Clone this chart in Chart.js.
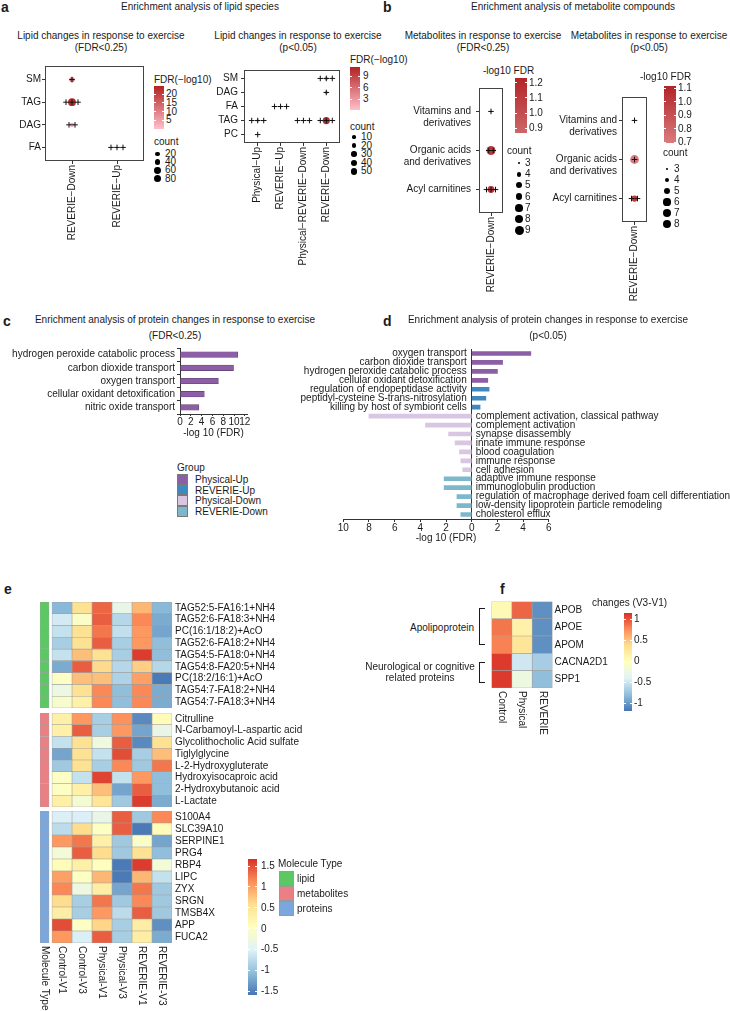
<!DOCTYPE html>
<html><head><meta charset="utf-8">
<script src="https://cdn.jsdelivr.net/npm/chart.js@4.4.1/dist/chart.umd.min.js"></script>
<style>
body{margin:0;background:#fff;}
#page{position:relative;width:730px;height:1011px;overflow:hidden;background:#fff;font-family:'Liberation Sans',Arial,sans-serif;color:#1a1a1a;}
.t{position:absolute;font-size:10px;line-height:12px;white-space:pre;}
canvas{position:absolute;}
.box{position:absolute;box-sizing:border-box;}
</style></head><body><div id="page"></div>
<script>
// ================= DATA =================
// a (left) lipid classes, FDR<0.25
const a1Groups = ['REVERIE−Down', 'REVERIE−Up'];
const a1Classes = ['SM', 'TAG', 'DAG', 'FA'];
const a1CellGroup = ['REVERIE−Down', 'REVERIE−Down', 'REVERIE−Down', 'REVERIE−Up'];
const a1CellClass = ['SM', 'TAG', 'DAG', 'FA'];
const a1Count = [30, 85, 18, 3];
const a1FDR = [12, 23, 4, 1];
const a1Hits = [1, 3, 2, 3];
const a1FdrTicks = [20, 15, 10, 5];
const a1CountTicks = [20, 40, 60, 80];

// a (right) lipid classes, p<0.05
const a2Groups = ['Physical−Up', 'REVERIE−Up', 'Physical−REVERIE−Down', 'REVERIE−Down'];
const a2Classes = ['SM', 'DAG', 'FA', 'TAG', 'PC'];
const a2CellGroup = ['REVERIE−Down', 'REVERIE−Down', 'REVERIE−Up', 'Physical−Up', 'Physical−REVERIE−Down', 'REVERIE−Down', 'Physical−Up'];
const a2CellClass = ['SM', 'DAG', 'FA', 'TAG', 'TAG', 'TAG', 'PC'];
const a2Count = [12, 8, 2, 4, 2, 60, 2];
const a2FDR = [2.5, 3, 1, 5, 1, 10.5, 1.5];
const a2Hits = [3, 1, 3, 3, 3, 3, 1];
const a2FdrTicks = [9, 6, 3];
const a2CountTicks = [10, 20, 30, 40, 50];

// b metabolite classes
const bClasses = ['Vitamins and derivatives', 'Organic acids and derivatives', 'Acyl carnitines'];
const bClassLines = [['', 'Vitamins and', 'derivatives'], ['', 'Organic acids', 'and derivatives'], ['Acyl carnitines']];
const bGroups = ['REVERIE−Down'];
const b1Count = [3, 9, 6];
const b1FDR = [1.22, 1.12, 1.12];
const b1Hits = [1, 2, 3];
const b1FdrTicks = [1.2, 1.1, 1.0, 0.9];
const b1CountTicks = [3, 4, 5, 6, 7, 8, 9];
const b2Count = [3, 8, 5];
const b2FDR = [1.1, 0.7, 1.02];
const b2Hits = [1, 1, 2];
const b2FdrTicks = [1.1, 1.0, 0.9, 0.8, 0.7];
const b2CountTicks = [3, 4, 5, 6, 7, 8];

// c protein enrichment FDR<0.25
const cTerms = ['hydrogen peroxide catabolic process', 'carbon dioxide transport', 'oxygen transport', 'cellular oxidant detoxification', 'nitric oxide transport'];
const cValues = [10.7, 9.9, 7.1, 4.5, 3.5];
const cTicks = [0, 2, 4, 6, 8, 10, 12];

// d protein enrichment p<0.05 (negative = down-regulated)
const dTerms = ['oxygen transport', 'carbon dioxide transport', 'hydrogen peroxide catabolic process', 'cellular oxidant detoxification',
  'regulation of endopeptidase activity', 'peptidyl-cysteine S-trans-nitrosylation', 'killing by host of symbiont cells',
  'complement activation, classical pathway', 'complement activation', 'synapse disassembly', 'innate immune response',
  'blood coagulation', 'immune response', 'cell adhesion',
  'adaptive immune response', 'immunoglobulin production', 'regulation of macrophage derived foam cell differentiation',
  'low-density lipoprotein particle remodeling', 'cholesterol efflux'];
const dValues = [4.6, 2.4, 2.0, 1.25, 1.35, 1.1, 0.65, -8.0, -3.6, -1.8, -1.3, -0.95, -0.85, -0.7, -2.15, -2.15, -1.15, -1.15, -0.85];
const dGroups = ['Physical-Up', 'Physical-Up', 'Physical-Up', 'Physical-Up', 'REVERIE-Up', 'REVERIE-Up', 'REVERIE-Up',
  'Physical-Down', 'Physical-Down', 'Physical-Down', 'Physical-Down', 'Physical-Down', 'Physical-Down', 'Physical-Down',
  'REVERIE-Down', 'REVERIE-Down', 'REVERIE-Down', 'REVERIE-Down', 'REVERIE-Down'];
const dTicks = [-10, -8, -6, -4, -2, 0, 2, 4, 6];
const groupNames = ['Physical-Up', 'REVERIE-Up', 'Physical-Down', 'REVERIE-Down'];

// e heatmap
const eColumns = ['Control-V1', 'Control-V3', 'Physical-V1', 'Physical-V3', 'REVERIE-V1', 'REVERIE-V3'];
const eLipidRows = ['TAG52:5-FA16:1+NH4', 'TAG52:6-FA18:3+NH4', 'PC(16:1/18:2)+AcO', 'TAG52:6-FA18:2+NH4', 'TAG54:5-FA18:0+NH4', 'TAG54:8-FA20:5+NH4', 'PC(18:2/16:1)+AcO', 'TAG54:7-FA18:2+NH4', 'TAG54:7-FA18:3+NH4'];
const eLipidVals = [
  [-1.1, 0.55, 1.35, -0.35, 0.85, -1.1],
  [-0.6, -0.05, 1.4, -0.8, 1.15, -1.2],
  [-0.7, 0.55, 1.25, -0.72, 1.05, -1.25],
  [-0.9, 0.55, 1.4, -0.9, 1.05, -1.05],
  [-0.7, 0.8, 0.55, -0.9, 1.6, -1.05],
  [-1.2, 1.4, 0.62, -0.8, 0.7, -0.8],
  [0.0, 0.8, 0.8, -0.85, 1.0, -1.55],
  [-0.3, 0.55, 1.15, -1.05, 1.15, -1.2],
  [-0.1, 0.3, 1.15, -1.05, 1.15, -1.2]];
const eMetabRows = ['Citrulline', 'N-Carbamoyl-L-aspartic acid', 'Glycolithocholic Acid sulfate', 'Tiglylglycine', 'L-2-Hydroxygluterate', 'Hydroxyisocaproic acid', '2-Hydroxybutanoic acid', 'L-Lactate'];
const eMetabVals = [
  [0.3, 1.05, -0.9, 1.1, -1.45, 0.1],
  [0.3, 1.4, -0.9, 1.05, -1.25, -0.35],
  [-0.7, 0.55, -0.25, 1.4, -1.45, 0.55],
  [-1.25, 0.55, -0.7, 1.5, -0.9, 0.8],
  [-0.95, 0.55, -0.9, 1.15, -0.95, 1.25],
  [0.0, -0.7, 1.55, -0.7, 1.05, -1.05],
  [0.0, 0.3, 0.8, -1.25, 1.4, -1.05],
  [0.3, -0.15, 0.5, -0.95, 1.6, -1.2]];
const eProtRows = ['S100A4', 'SLC39A10', 'SERPINE1', 'PRG4', 'RBP4', 'LIPC', 'ZYX', 'SRGN', 'TMSB4X', 'APP', 'FUCA2'];
const eProtVals = [
  [-0.55, -0.55, -0.35, 1.4, -0.95, 1.15],
  [-0.75, 0.6, 0.0, 1.4, -1.55, 0.1],
  [1.05, 1.25, 0.3, -0.95, -0.05, -1.25],
  [-0.2, 1.4, 0.6, -0.95, 0.55, -1.05],
  [0.1, 0.3, 0.05, -1.55, 1.6, -0.2],
  [1.0, 0.0, 0.85, -1.55, 0.85, -0.7],
  [1.15, -0.3, 0.35, -1.25, 1.25, -0.95],
  [0.6, -0.9, 1.25, -0.95, 1.15, -0.95],
  [0.35, -0.9, 1.05, -0.75, 1.4, -0.95],
  [1.5, 0.0, 0.65, -0.9, 0.35, -1.4],
  [1.05, -0.55, 1.4, -0.9, 0.35, -1.2]];
const eMoleculeTypes = ['lipid', 'metabolites', 'proteins'];
const eScaleTicks = [1.5, 1, 0.5, 0, -0.5, -1, -1.5];

// f heatmap
const fColumns = ['Control', 'Physical', 'REVERIE'];
const fRows = ['APOB', 'APOE', 'APOM', 'CACNA2D1', 'SPP1'];
const fVals = [
  [0.05, 0.92, -1.05],
  [0.85, 0.15, -1.05],
  [0.8, 0.3, -1.05],
  [1.1, -0.5, -0.7],
  [1.1, -0.25, -0.8]];
const fScaleTicks = [1, 0.5, 0, -0.5, -1];

// ================= STYLE =================
const page = document.getElementById('page');
Chart.defaults.font.family = "'Liberation Sans', Arial, sans-serif";
Chart.defaults.font.size = 10;
Chart.defaults.color = '#1a1a1a';
Chart.defaults.animation = false;
Chart.defaults.events = [];
Chart.defaults.plugins.legend.display = false;
Chart.defaults.plugins.tooltip.enabled = false;

const groupColors = {'Physical-Up': '#8b5ea5', 'REVERIE-Up': '#3f88c0', 'Physical-Down': '#d9c6e2', 'REVERIE-Down': '#7cb7cc'};
const typeColors = {lipid: '#5cc864', metabolites: '#ea7f84', proteins: '#7ca7dc'};
const RDYLBU = ['#4575B4', '#91BFDB', '#E0F3F8', '#FFFFBF', '#FEE090', '#FC8D59', '#D73027'];

function hex2rgb(h) { return [1, 3, 5].map(i => parseInt(h.substr(i, 2), 16)); }
function lerpColor(a, b, t) {
  t = Math.max(0, Math.min(1, t));
  const A = hex2rgb(a), B = hex2rgb(b);
  return 'rgb(' + A.map((v, i) => Math.round(v + (B[i] - v) * t)).join(',') + ')';
}
function gradFn(lo, hi, cLo, cHi) { return v => lerpColor(cLo, cHi, (v - lo) / (hi - lo)); }
function divFn(lo, hi) {
  return v => {
    let t = Math.max(0, Math.min(1, (v - lo) / (hi - lo)));
    const s = t * (RDYLBU.length - 1);
    const i = Math.min(Math.floor(s), RDYLBU.length - 2);
    return lerpColor(RDYLBU[i], RDYLBU[i + 1], s - i);
  };
}
function sizeFn(cmin, cmax, rmin, rmax) {
  return c => rmin + (rmax - rmin) * Math.sqrt(Math.max(0, (c - cmin) / (cmax - cmin)));
}

function txt(s, x, y, o) {
  o = o || {};
  const d = document.createElement('div');
  d.className = 't';
  d.textContent = s;
  const lh = o.lh || 12;
  d.style.lineHeight = lh + 'px';
  d.style.top = (y - lh / 2) + 'px';
  if (o.size) d.style.fontSize = o.size + 'px';
  if (o.bold) d.style.fontWeight = 'bold';
  if (o.align === 'center') { d.style.left = (x - 250) + 'px'; d.style.width = '500px'; d.style.textAlign = 'center'; }
  else if (o.align === 'right') { d.style.right = (730 - x) + 'px'; d.style.textAlign = 'right'; }
  else d.style.left = x + 'px';
  page.appendChild(d);
  return d;
}
function box(x, y, w, h, css) {
  const d = document.createElement('div');
  d.className = 'box';
  Object.assign(d.style, {left: x + 'px', top: y + 'px', width: w + 'px', height: h + 'px'}, css || {});
  page.appendChild(d);
  return d;
}
function colorbar(x, y, w, h, gradient, ticks, lo, hi, labX, fmt) {
  box(x, y, w, h, {background: gradient});
  ticks.forEach(v => {
    const py = y + (hi - v) / (hi - lo) * h;
    box(x, py - 0.5, 2, 1, {background: '#fff'});
    box(x + w - 2, py - 0.5, 2, 1, {background: '#fff'});
    txt(fmt ? fmt(v) : String(v), labX, py);
  });
}
function sizeLegend(cx, cys, counts, rf, labX) {
  counts.forEach((c, i) => {
    const r = rf(c);
    box(cx - r, cys[i] - r, 2 * r, 2 * r, {background: '#000', borderRadius: '50%'});
    txt(String(c), labX, cys[i]);
  });
}
function makeCanvas(L, T, W, H) {
  const c = document.createElement('canvas');
  c.width = W; c.height = H;
  Object.assign(c.style, {left: L + 'px', top: T + 'px', width: W + 'px', height: H + 'px'});
  page.appendChild(c);
  return c;
}
function zp(s) { s.paddingLeft = 0; s.paddingRight = 0; s.paddingTop = 0; s.paddingBottom = 0; }

const framePlugin = {
  id: 'frame',
  afterDraw(chart) {
    const a = chart.chartArea, ctx = chart.ctx;
    ctx.save(); ctx.strokeStyle = '#444'; ctx.lineWidth = 1;
    ctx.strokeRect(Math.round(a.left) + 0.5, Math.round(a.top) + 0.5, Math.round(a.right - a.left) - 1, Math.round(a.bottom - a.top) - 1);
    ctx.restore();
  }
};

// ================= DOT PLOTS =================
function dotChart(sp) {
  const [al, at, ar, ab] = sp.area;
  const cv = makeCanvas(sp.L, sp.T, sp.W, sp.H);
  const xMin = -0.6, xMax = sp.xs.length - 0.4, yMin = -0.6, yMax = sp.ys.length - 0.4;
  const pxX = (ar - al) / (xMax - xMin);
  const crosses = [];
  sp.cellX.forEach((g, i) => {
    const xi = sp.xs.indexOf(g), yi = sp.ys.indexOf(sp.cellY[i]), n = sp.hits[i];
    for (let k = 0; k < n; k++) crosses.push({x: xi + (k - (n - 1) / 2) * sp.spacing / pxX, y: yi});
  });
  const bubbles = sp.cellX.map((g, i) => ({x: sp.xs.indexOf(g), y: sp.ys.indexOf(sp.cellY[i]), r: sp.size(sp.counts[i])}));
  const yW = al - sp.L, xH = sp.T + sp.H - ab;
  const yLab = sp.yLabels || sp.ys;
  return new Chart(cv, {
    type: 'scatter',
    data: {datasets: [
      {type: 'scatter', data: crosses, pointStyle: 'cross', radius: 2.8, borderColor: '#111', backgroundColor: '#111', borderWidth: 1},
      {type: 'bubble', data: bubbles, backgroundColor: sp.fdrs.map(sp.color), borderWidth: 0}
    ]},
    options: {
      responsive: false,
      layout: {padding: {left: 0, top: at - sp.T, right: sp.L + sp.W - ar, bottom: 0}},
      scales: {
        x: {type: 'linear', bounds: 'data', min: xMin, max: xMax,
          afterBuildTicks: s => { s.ticks = sp.xs.map((_, i) => ({value: i})); },
          ticks: {callback: v => sp.xs[v], autoSkip: false, minRotation: 90, maxRotation: 90, padding: 1, color: '#1a1a1a'},
          grid: {drawOnChartArea: false, tickLength: 3, color: '#333'}, border: {display: false},
          afterFit: s => { s.height = xH; zp(s); }},
        y: {type: 'linear', bounds: 'data', reverse: true, min: yMin, max: yMax,
          afterBuildTicks: s => { s.ticks = sp.ys.map((_, i) => ({value: i})); },
          ticks: {callback: v => yLab[v], autoSkip: false, padding: sp.yPad, color: '#1a1a1a'},
          grid: {drawOnChartArea: false, tickLength: 3, color: '#333'}, border: {display: false},
          afterFit: s => { s.width = yW; zp(s); }}
      }
    },
    plugins: [framePlugin]
  });
}

// Titles a / b
txt('a', 1, 7, {bold: true, size: 14, lh: 14});
txt('Enrichment analysis of lipid species', 200, 6.5, {align: 'center'});
txt('b', 383, 7, {bold: true, size: 14, lh: 14});
txt('Enrichment analysis of metabolite compounds', 573, 6.5, {align: 'center'});
txt('Lipid changes in response to exercise\n(FDR<0.25)', 101, 36, {align: 'center', lh: 12.8});
txt('Lipid changes in response to exercise\n(p<0.05)', 298, 36, {align: 'center', lh: 12.8});
txt('Metabolites in response to exercise\n(FDR<0.25)', 483, 36, {align: 'center', lh: 12.8});
txt('Metabolites in response to exercise\n(p<0.05)', 649, 36, {align: 'center', lh: 12.8});

const a1Color = gradFn(0, 24.6, '#FFC0CB', '#B22222');
const a1Size = sizeFn(3, 85, 0.9, 3.9);
dotChart({L: 0, T: 60, W: 150, H: 200, area: [45, 66, 144, 161], xs: a1Groups, ys: a1Classes,
  cellX: a1CellGroup, cellY: a1CellClass, counts: a1Count, fdrs: a1FDR, hits: a1Hits,
  size: a1Size, color: a1Color, spacing: 6, yPad: 1});
txt('FDR(−log10)', 154, 80);
colorbar(154, 86, 9.5, 43, 'linear-gradient(to top,#FFC0CB,#B22222)', a1FdrTicks, 0, 24.6, 166);
txt('count', 154, 142);
sizeLegend(157.5, [154, 162, 170.3, 178.6], a1CountTicks, a1Size, 165);

const a2Color = gradFn(0.13, 11.35, '#FFC0CB', '#B22222');
const a2Size = sizeFn(2, 60, 0.8, 3.6);
dotChart({L: 195, T: 64, W: 151, H: 212, area: [244, 70, 340, 143], xs: a2Groups, ys: a2Classes,
  cellX: a2CellGroup, cellY: a2CellClass, counts: a2Count, fdrs: a2FDR, hits: a2Hits,
  size: a2Size, color: a2Color, spacing: 6, yPad: 3});
txt('FDR(−log10)', 350, 60);
colorbar(350, 67, 10, 43, 'linear-gradient(to top,#FFC0CB,#B22222)', a2FdrTicks, 0.13, 11.35, 363);
txt('count', 350, 127);
sizeLegend(354, [137, 145.6, 154.2, 162.8, 171.4], a2CountTicks, a2Size, 361);

const b1Color = gradFn(0.867, 1.233, '#cc6668', '#b22428');
const b1Size = sizeFn(3, 9, 0.9, 4.5);
dotChart({L: 380, T: 82, W: 130, H: 230, area: [479, 88, 503, 213], xs: bGroups, ys: bClasses, yLabels: bClassLines,
  cellX: bClasses.map(() => 'REVERIE−Down'), cellY: bClasses, counts: b1Count, fdrs: b1FDR, hits: b1Hits,
  size: b1Size, color: b1Color, spacing: 4.5, yPad: 5});
txt('-log10 FDR', 483, 71);
colorbar(515, 78, 12, 55, 'linear-gradient(to top,#cc6668,#b22428)', b1FdrTicks, 0.867, 1.233, 529, v => v.toFixed(1));
txt('count', 507, 151);
sizeLegend(519, [163, 174.2, 185.4, 196.6, 207.8, 219, 230.2], b1CountTicks, b1Size, 525);

const b2Color = gradFn(0.693, 1.115, '#d97b7e', '#b22428');
const b2Size = sizeFn(3, 8, 0.9, 4.4);
dotChart({L: 520, T: 91, W: 134, H: 240, area: [622, 97, 647, 222], xs: bGroups, ys: bClasses, yLabels: bClassLines,
  cellX: bClasses.map(() => 'REVERIE−Down'), cellY: bClasses, counts: b2Count, fdrs: b2FDR, hits: b2Hits,
  size: b2Size, color: b2Color, spacing: 6, yPad: 2});
txt('-log10 FDR', 640, 77);
colorbar(664, 86, 12, 57, 'linear-gradient(to top,#d97b7e,#b22428)', b2FdrTicks, 0.693, 1.115, 678, v => v.toFixed(1));
txt('count', 663, 153);
sizeLegend(667, [169, 180, 191, 202, 213, 224], b2CountTicks, b2Size, 674);

// ================= C =================
txt('c', 3, 321, {bold: true, size: 14, lh: 14});
txt('Enrichment analysis of protein changes in response to exercise\n(FDR<0.25)', 175, 320, {align: 'center', lh: 16});
new Chart(makeCanvas(0, 342, 255, 100), {
  type: 'bar',
  data: {labels: cTerms, datasets: [{data: cValues, backgroundColor: groupColors['Physical-Up'], borderColor: '#5e3f72', borderWidth: 0.6, borderSkipped: false, barThickness: 5.5}]},
  options: {
    indexAxis: 'y', responsive: false,
    layout: {padding: {left: 0, top: 6, right: 8, bottom: 0}},
    scales: {
      x: {type: 'linear', bounds: 'data', min: 0, max: 12.4,
        afterBuildTicks: s => { s.ticks = cTicks.map(v => ({value: v})); },
        ticks: {autoSkip: false, maxRotation: 0, padding: 0},
        grid: {drawOnChartArea: false, tickLength: 2, color: '#333'}, border: {color: '#333'},
        title: {display: true, text: '-log 10 (FDR)', padding: {top: 0, bottom: 3}},
        afterFit: s => { s.height = 28; zp(s); }},
      y: {grid: {drawOnChartArea: false, tickLength: 3, color: '#333'}, border: {color: '#333'},
        ticks: {padding: 2, autoSkip: false},
        afterFit: s => { s.width = 180; zp(s); }}
    }
  }
});
txt('Group', 177, 468);
groupNames.forEach((g, i) => {
  box(177, 474 + i * 10.7, 11, 10.7, {background: groupColors[g], border: '1px solid #7a7a7a'});
  txt(g, 195, 480 + i * 10.5);
});

// ================= D =================
txt('d', 383, 321, {bold: true, size: 14, lh: 14});
txt('Enrichment analysis of protein changes in response to exercise\n(p<0.05)', 548, 320, {align: 'center', lh: 16});
const termLabels = {
  id: 'termLabels',
  afterDatasetsDraw(chart) {
    const ctx = chart.ctx, xs = chart.scales.x, ys = chart.scales.y;
    const x0 = xs.getPixelForValue(0);
    ctx.save();
    ctx.font = "10px 'Liberation Sans', Arial, sans-serif";
    ctx.fillStyle = '#1a1a1a'; ctx.textBaseline = 'middle';
    dTerms.forEach((t, i) => {
      const y = ys.getPixelForValue(i);
      if (dValues[i] >= 0) { ctx.textAlign = 'right'; ctx.fillText(t, x0 - 5, y); }
      else { ctx.textAlign = 'left'; ctx.fillText(t, x0 + 4, y); }
    });
    ctx.restore();
  }
};
new Chart(makeCanvas(290, 343, 440, 205), {
  type: 'bar',
  data: {labels: dTerms, datasets: [{data: dValues, backgroundColor: dGroups.map(g => groupColors[g]), barThickness: 4}]},
  options: {
    indexAxis: 'y', responsive: false,
    layout: {padding: {left: 53.3, top: 6, right: 181.2, bottom: 0}},
    scales: {
      x: {type: 'linear', bounds: 'data', min: -10, max: 6,
        afterBuildTicks: s => { s.ticks = dTicks.map(v => ({value: v})); },
        ticks: {callback: v => Math.abs(v), autoSkip: false, maxRotation: 0, padding: 0},
        grid: {drawOnChartArea: true, color: c => (c.tick && c.tick.value === 0) ? '#333' : 'rgba(0,0,0,0)', tickColor: '#333', tickLength: 3},
        border: {color: '#333'},
        title: {display: true, text: '-log 10 (FDR)', padding: {top: 0, bottom: 4}},
        afterFit: s => { s.height = 29; zp(s); }},
      y: {display: false}
    }
  },
  plugins: [termLabels]
});

// ================= E / F heatmaps =================
function colLabelPlugin(labels, positions, gap) {
  return {
    id: 'colLabels',
    afterDraw(chart) {
      const ctx = chart.ctx, xs = chart.scales.x, top = chart.chartArea.bottom + gap;
      ctx.save();
      ctx.font = "10px 'Liberation Sans', Arial, sans-serif";
      ctx.fillStyle = '#1a1a1a'; ctx.textAlign = 'left'; ctx.textBaseline = 'middle';
      labels.forEach((lab, i) => {
        ctx.save(); ctx.translate(xs.getPixelForValue(positions[i]), top); ctx.rotate(Math.PI / 2);
        ctx.fillText(lab, 0, 0); ctx.restore();
      });
      ctx.restore();
    }
  };
}
function heatChart(sp) {
  const [al, at, ar, ab] = sp.area;
  const cv = makeCanvas(sp.L, sp.T, sp.W, sp.H);
  const base = {grouped: false, categoryPercentage: 1, barPercentage: 1, borderColor: '#a0a0a0', borderWidth: 0.6, borderSkipped: false};
  const datasets = [];
  if (sp.ann) datasets.push(Object.assign({data: sp.rows.map(() => [-0.6, -0.15]), backgroundColor: sp.ann}, base));
  sp.cols.forEach((c, j) => datasets.push(Object.assign({data: sp.rows.map(() => [j, j + 1]), backgroundColor: sp.vals.map(r => sp.color(r[j]))}, base)));
  return new Chart(cv, {
    type: 'bar',
    data: {labels: sp.rows, datasets},
    options: {
      indexAxis: 'y', responsive: false,
      layout: {padding: {left: al - sp.L, top: at - sp.T, right: sp.L + sp.W - ar - sp.labelW, bottom: sp.T + sp.H - ab}},
      scales: {
        x: {type: 'linear', min: sp.xMin, max: sp.xMax, display: false},
        y: {type: 'category', position: 'right', grid: {display: false, drawTicks: false}, border: {display: false},
          ticks: {padding: sp.labPad, autoSkip: false},
          afterFit: s => { s.width = sp.labelW; zp(s); }}
      }
    },
    plugins: sp.plugins || []
  });
}
txt('e', 4, 589, {bold: true, size: 14, lh: 14});
const eColor = divFn(-1.596, 1.668);
heatChart({L: 30, T: 596, W: 310, H: 118, area: [40, 602, 172, 708], rows: eLipidRows, vals: eLipidVals, cols: eColumns,
  ann: typeColors.lipid, color: eColor, xMin: -0.6, xMax: 6, labelW: 168, labPad: 3});
heatChart({L: 30, T: 707, W: 310, H: 106, area: [40, 713, 172, 807], rows: eMetabRows, vals: eMetabVals, cols: eColumns,
  ann: typeColors.metabolites, color: eColor, xMin: -0.6, xMax: 6, labelW: 168, labPad: 3});
heatChart({L: 30, T: 805, W: 310, H: 206, area: [40, 811, 172, 943], rows: eProtRows, vals: eProtVals, cols: eColumns,
  ann: typeColors.proteins, color: eColor, xMin: -0.6, xMax: 6, labelW: 168, labPad: 3,
  plugins: [colLabelPlugin(['Molecule Type'].concat(eColumns), [-0.375].concat(eColumns.map((_, j) => j + 0.5)), 3)]});
colorbar(248, 859, 9, 136, 'linear-gradient(to top,' + RDYLBU.join(',') + ')', eScaleTicks, -1.596, 1.668, 261);
txt('Molecule Type', 278, 864);
eMoleculeTypes.forEach((m, i) => {
  box(278.5, 871 + i * 15, 15, 15, {background: typeColors[m], border: '1px solid #9a9a9a'});
  txt(m, 297, 879 + i * 15);
});

txt('f', 500, 589, {bold: true, size: 14, lh: 14});
const fColor = divFn(-1.19, 1.143);
heatChart({L: 485, T: 596, W: 140, H: 150, area: [491.5, 601.5, 552.5, 688], rows: fRows, vals: fVals, cols: fColumns,
  color: fColor, xMin: 0, xMax: 3, labelW: 72.5, labPad: 2,
  plugins: [colLabelPlugin(fColumns, fColumns.map((_, j) => j + 0.5), 3)]});
txt('changes (V3-V1)', 592, 603);
colorbar(624, 613, 7.5, 98, 'linear-gradient(to top,' + RDYLBU.join(',') + ')', fScaleTicks, -1.19, 1.143, 634);
txt('Apolipoprotein', 474, 628, {align: 'right'});
txt('Neurological or cognitive\nrelated proteins', 420, 666.5, {align: 'center', lh: 11.5});
box(479, 608, 6, 37, {border: '1px solid #1a1a1a', borderRight: 'none'});
box(479, 662, 6, 21, {border: '1px solid #1a1a1a', borderRight: 'none'});
</script>
</body></html>
